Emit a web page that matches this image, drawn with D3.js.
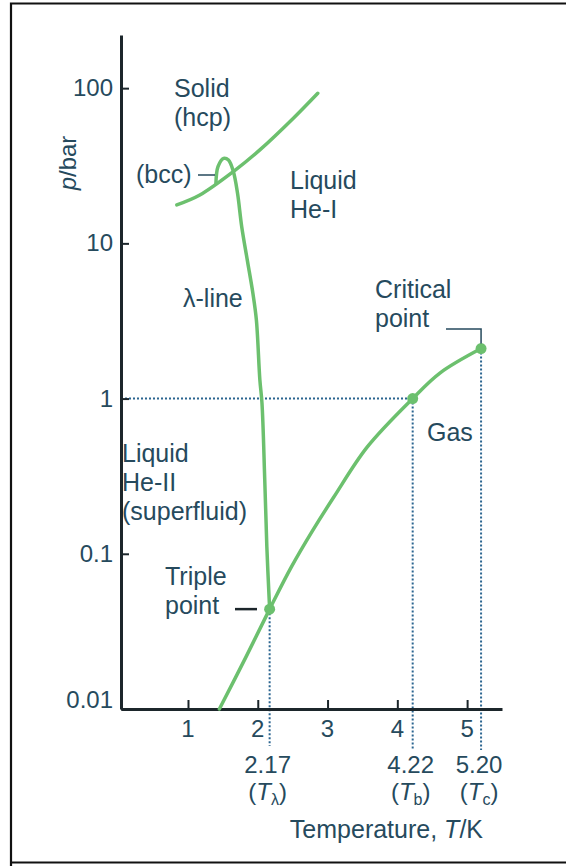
<!DOCTYPE html>
<html>
<head>
<meta charset="utf-8">
<script src="https://cdn.jsdelivr.net/npm/d3@7"></script>
<style>
  html, body { margin: 0; padding: 0; background: #fff; }
  svg { display: block; }
  text { font-family: "Liberation Sans", Arial, Helvetica, sans-serif; fill: #264a5d; }
</style>
</head>
<body>
<svg id="chart" width="566" height="866"></svg>
<script>
// Helium phase diagram: pressure (log scale) against temperature

const tempTicks = [1, 2, 3, 4, 5];
const pressureTicks = [0.01, 0.1, 1, 10, 100];
const pressureTickLabels = ["0.01", "0.1", "1", "10", "100"];

// solid / liquid boundary (melting curve)
const meltingT = [0.84, 1.17, 1.65, 2.03, 2.51, 2.86];
const meltingP = [17.7, 20.5, 29.0, 40.0, 64.0, 92.7];

// bcc pocket followed by the lambda line down to the triple point
const lambdaT = [1.40, 1.43, 1.51, 1.58, 1.65, 1.71, 1.77, 1.85, 1.93, 1.98, 2.03, 2.06, 2.10, 2.13, 2.17];
const lambdaP = [24.4, 31.2, 35.3, 34.4, 29.0, 21.0, 12.8, 7.8, 4.77, 3.21, 1.32, 0.94, 0.30, 0.111, 0.044];

// liquid / vapour boundary up to the critical point
const vaporT = [1.45, 1.83, 2.17, 2.48, 2.79, 3.09, 3.57, 4.22, 4.61, 5.20];
const vaporP = [0.010, 0.0216, 0.044, 0.082, 0.142, 0.232, 0.488, 1.0, 1.46, 2.1];

// marked points: lambda/triple point, normal boiling point, critical point
const markedT = [2.17, 4.22, 5.20];
const markedP = [0.044, 1.0, 2.1];
const markedLabels = ["2.17", "4.22", "5.20"];
const markedSubs = ["λ", "b", "c"];

const svg = d3.select("#chart");

const green = "#6cc06e";
const axisColor = "#1c262b";
const dotColor = "#2b6590";
const textColor = "#264a5d";
const labelSize = 25;
const tickSize = 24;

// frame
svg.append("path")
  .attr("d", "M 11 866 L 11 3.5 L 566 3.5 M 11 862.5 L 566 862.5")
  .attr("fill", "none").attr("stroke", "#111").attr("stroke-width", 2.2);

const x = d3.scaleLinear().domain([0.04, 5.5]).range([121, 502]);
const y = d3.scaleLog().domain([0.01, 220]).range([709, 35]);

const g = svg.append("g");

// reference dotted lines
const dots = g.append("g")
  .attr("stroke", dotColor).attr("stroke-width", 2)
  .attr("stroke-dasharray", "2,2").attr("fill", "none");
dots.append("line")
  .attr("x1", x(0.04)).attr("x2", x(markedT[1]))
  .attr("y1", y(1)).attr("y2", y(1));
markedT.forEach((t, i) => {
  dots.append("line")
    .attr("x1", x(t)).attr("x2", x(t))
    .attr("y1", y(markedP[i])).attr("y2", y(0.01) + (i === 0 ? 37 : 41));
});

// axes
const xAxis = d3.axisBottom(x).tickValues(tempTicks).tickSize(0).tickFormat("");
const yAxis = d3.axisLeft(y).tickValues(pressureTicks).tickSize(0).tickFormat("");
const gx = g.append("g").attr("transform", `translate(0,${y(0.01)})`).call(xAxis);
const gy = g.append("g").attr("transform", `translate(${x(0.04)},0)`).call(yAxis);
[gx, gy].forEach(a => {
  a.select(".domain").attr("stroke", axisColor).attr("stroke-width", 3);
});
gx.selectAll(".tick").append("line")
  .attr("y1", 0).attr("y2", -9).attr("stroke", axisColor).attr("stroke-width", 2);
gy.selectAll(".tick").append("line")
  .attr("x1", 0).attr("x2", 8).attr("stroke", axisColor).attr("stroke-width", 2);

// tick labels
g.append("g").selectAll("text").data(tempTicks).join("text")
  .attr("x", d => x(d)).attr("y", 737)
  .attr("text-anchor", "middle").attr("font-size", tickSize)
  .text(d => d);
g.append("g").selectAll("text").data(pressureTicks).join("text")
  .attr("x", 113).attr("y", d => y(d) + (d === 0.01 ? -1 : 8))
  .attr("text-anchor", "end").attr("font-size", tickSize)
  .text((d, i) => pressureTickLabels[i]);

// marked temperatures below the axis
markedT.forEach((t, i) => {
  g.append("text").attr("x", x(t) - 2).attr("y", 773)
    .attr("text-anchor", "middle").attr("font-size", tickSize)
    .text(markedLabels[i]);
  const lab = g.append("text").attr("x", x(t) - 2).attr("y", 800)
    .attr("text-anchor", "middle").attr("font-size", tickSize);
  lab.append("tspan").text("(");
  lab.append("tspan").attr("font-style", "italic").text("T");
  lab.append("tspan").attr("font-size", 16).attr("dy", 5).text(markedSubs[i]);
  lab.append("tspan").attr("dy", -5).text(")");
});

// axis titles
const xt = g.append("text").attr("x", 483).attr("y", 838)
  .attr("text-anchor", "end").attr("font-size", labelSize);
xt.append("tspan").text("Temperature, ");
xt.append("tspan").attr("font-style", "italic").text("T");
xt.append("tspan").text("/K");

const yt = g.append("text")
  .attr("transform", "translate(76,163) rotate(-90)")
  .attr("text-anchor", "middle").attr("font-size", tickSize);
yt.append("tspan").attr("font-style", "italic").text("p");
yt.append("tspan").text("/bar");

// phase boundaries
const line = d3.line().x(d => x(d[0])).y(d => y(d[1])).curve(d3.curveCatmullRom.alpha(0.5));
const curves = [
  d3.zip(meltingT, meltingP),
  d3.zip(lambdaT, lambdaP),
  d3.zip(vaporT, vaporP)
];
g.append("g").selectAll("path").data(curves).join("path")
  .attr("d", line).attr("fill", "none")
  .attr("stroke", green).attr("stroke-width", 3.5)
  .attr("stroke-linecap", "round");

g.append("g").selectAll("circle").data(d3.zip(markedT, markedP)).join("circle")
  .attr("cx", d => x(d[0])).attr("cy", d => y(d[1])).attr("r", 5.5)
  .attr("fill", green);

// leader lines
g.append("line").attr("x1", 198).attr("x2", 215).attr("y1", 175).attr("y2", 175)
  .attr("stroke", textColor).attr("stroke-width", 1.5);
g.append("line").attr("x1", 235).attr("x2", 257).attr("y1", y(markedP[0])).attr("y2", y(markedP[0]))
  .attr("stroke", axisColor).attr("stroke-width", 2.5);
g.append("path")
  .attr("d", `M 446 329 H ${x(markedT[2])} V ${y(markedP[2]) - 5}`)
  .attr("fill", "none").attr("stroke", textColor).attr("stroke-width", 1.5);

// region labels
const labels = [
  { x: 174, y: 97, lines: ["Solid", "(hcp)"] },
  { x: 136, y: 183, lines: ["(bcc)"] },
  { x: 290, y: 189, lines: ["Liquid", "He-I"] },
  { x: 183, y: 307, lines: ["λ-line"] },
  { x: 375, y: 298, lines: ["Critical", "point"] },
  { x: 427, y: 441, lines: ["Gas"] },
  { x: 122, y: 462, lines: ["Liquid", "He-II", "(superfluid)"] },
  { x: 165, y: 585, lines: ["Triple", "point"] }
];
labels.forEach(l => {
  const t = g.append("text").attr("font-size", labelSize);
  l.lines.forEach((s, i) => {
    t.append("tspan").attr("x", l.x).attr("y", l.y + i * 29).text(s);
  });
});
</script>
</body>
</html>
